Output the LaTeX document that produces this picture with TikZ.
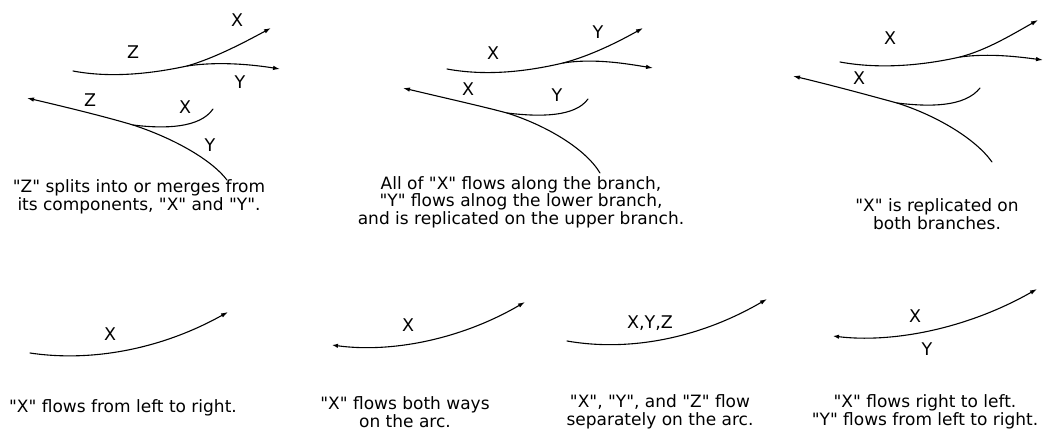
\documentclass[tikz,border=0pt]{standalone}
\usepackage{fontspec}
\setmainfont{DejaVu Sans}[Ligatures=TeXOff]
\usetikzlibrary{arrows.meta}
\tikzset{
  arc/.style   = {line width=1.1pt, line cap=round},
  tip/.style   = {-{Latex[length=7pt,width=4.5pt]}},
  pit/.style   = {{Latex[length=7pt,width=4.5pt]}-},
  both/.style  = {{Latex[length=6pt,width=4.5pt]}-{Latex[length=7pt,width=4.5pt]}},
  lab/.style   = {font=\fontsize{17.5}{17.5}\selectfont, inner sep=0pt},
  capt/.style  = {font=\fontsize{17}{17.5}\selectfont, align=center, inner sep=0pt},
}

\begin{document}
\begin{tikzpicture}[x=1pt,y=-1pt]
  \useasboundingbox (0,0) rectangle (1045,437);
  % top left: split / merge
  \draw[arc,tip] (73,71) .. controls (110,78) and (150,74) .. (187,66)
    .. controls (215,58) and (245,42) .. (271,28);
  \draw[arc,tip] (187,66) .. controls (220,61) and (255,65) .. (280,69);
  \draw[arc,pit] (27,98) .. controls (70,108) and (110,118) .. (133,125)
    .. controls (170,137) and (210,158) .. (227,180);
  \draw[arc] (133,125) .. controls (165,129) and (200,128) .. (213,109);
  \node[lab] (x1) at (237,20) {X};
  \node[lab] (z1) at (133,52) {Z};
  \node[lab] (y1) at (240,82) {Y};
  \node[lab] (z2) at (90,100) {Z};
  \node[lab] (x2) at (185,107) {X};
  \node[lab] (y2) at (210,145) {Y};
  \node[capt] (c1) at (139,197) {"Z" splits into or merges from\\its components, "X" and "Y".};
  % top middle
  \draw[arc,tip] (447,69) .. controls (485,76) and (525,72) .. (563,63)
    .. controls (590,56) and (618,42) .. (643,28);
  \draw[arc,tip] (563,63) .. controls (595,58) and (628,64) .. (653,68);
  \draw[arc,pit] (403,88) .. controls (445,98) and (485,107) .. (507,113)
    .. controls (545,125) and (585,148) .. (600,173);
  \draw[arc] (507,113) .. controls (540,117) and (575,117) .. (588,99);
  \node[lab] (x3) at (493,53) {X};
  \node[lab] (y3) at (598,32) {Y};
  \node[lab] (x4) at (468,89) {X};
  \node[lab] (y4) at (557,95) {Y};
  \node[capt] (c2) at (521,202) {All of "X" flows along the branch,\\"Y" flows alnog the lower branch,\\and is replicated on the upper branch.};
  % top right
  \draw[arc,tip] (840,62) .. controls (878,69) and (920,66) .. (960,57)
    .. controls (987,50) and (1013,34) .. (1038,20);
  \draw[arc,tip] (960,57) .. controls (990,53) and (1020,57) .. (1043,60);
  \draw[arc,pit] (793,76) .. controls (835,86) and (875,97) .. (897,103)
    .. controls (935,115) and (975,138) .. (992,162);
  \draw[arc] (897,103) .. controls (930,107) and (965,107) .. (980,88);
  \node[lab] (x5) at (890,38) {X};
  \node[lab] (x6) at (859,78) {X};
  \node[capt] (c3) at (937,214) {"X" is replicated on\\both branches.};
  % bottom row
  \draw[arc,tip] (30,353) .. controls (90,362) and (160,350) .. (228,312);
  \node[lab] (x7) at (110,334) {X};
  \node[capt] (c4) at (123,408) {"X" flows from left to right.};
  \draw[arc,both] (332,345) .. controls (390,353) and (460,340) .. (525,302);
  \node[lab] (x8) at (408,325) {X};
  \node[capt] (c5) at (405,412) {"X" flows both ways\\on the arc.};
  \draw[arc,tip] (567,341) .. controls (630,352) and (700,338) .. (767,299);
  \node[lab] (xyz) at (650,323) {X,Y,Z};
  \node[capt] (c6) at (660,412) {"X", "Y", and "Z" flow\\separately on the arc.};
  \draw[arc,both] (833,336) .. controls (890,343) and (965,330) .. (1037,289);
  \node[lab] (x9) at (915,316) {X};
  \node[lab] (y9) at (927,349) {Y};
  \node[capt] (c7) at (925,412) {"X" flows right to left.\\"Y" flows from left to right.};
\end{tikzpicture}
\end{document}
